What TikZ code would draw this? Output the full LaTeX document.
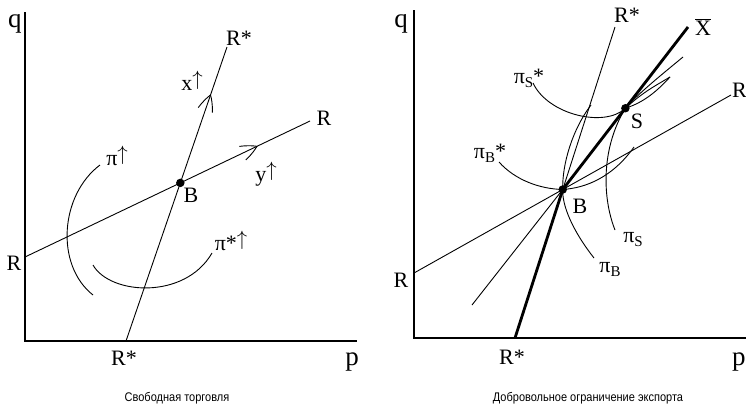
\documentclass[tikz,border=0pt]{standalone}
\usepackage{fontspec}
\setmainfont{Liberation Serif}
\newfontfamily\capfont{Liberation Sans}
\usetikzlibrary{arrows.meta,decorations.markings,calc}
\newcommand{\lsub}[1]{\raisebox{-4pt}{\fontsize{15}{15}\selectfont #1}}
\newcommand{\uparr}{\raisebox{0.2em}{$\uparrow$}}
\begin{document}
\begin{tikzpicture}[x=1pt,y=-1pt,
  lbl/.style={font=\fontsize{22}{22}\selectfont, inner sep=0pt, anchor=base},
  axlbl/.style={font=\fontsize{27}{27}\selectfont, inner sep=0pt, anchor=base},
  captxt/.style={font=\capfont\fontsize{12.5}{12.5}\selectfont, inner sep=0pt, anchor=base, xscale=0.88},
  axisln/.style={line width=1.2pt},
  ln/.style={line width=0.9pt},
  thickln/.style={line width=2.8pt},
  dot/.style={circle, fill=black, inner sep=0pt, minimum size=8.5pt},
  midarrow/.style={postaction={decorate}, decoration={markings,
     mark=at position #1 with {\draw[line width=0.9pt] (-16pt,7.5pt) .. controls (-8pt,5pt) and (-3pt,2pt) .. (0pt,0pt)
        .. controls (-3pt,-2pt) and (-8pt,-5pt) .. (-16pt,-7.5pt);}}}
]
\useasboundingbox (0,0) rectangle (746,408);

% ================= LEFT PANEL =================
\coordinate (LO) at (25,341);
\coordinate (LQ) at (25,12);
\coordinate (LP) at (357,341);
\coordinate (LS1) at (126,341);
\coordinate (LS2) at (227,47);
\coordinate (LR1) at (25,257);
\coordinate (LR2) at (310,121);
\coordinate (LB) at (intersection of LS1--LS2 and LR1--LR2);
\coordinate (pa1) at (100,165);
\coordinate (pa2) at (93,295);
\coordinate (pb1) at (93,265);
\coordinate (pb2) at (212,253);

\draw[axisln] (LQ) -- (LO) -- (LP);
\draw[ln, midarrow=0.837] (LS1) -- (LS2);
\draw[ln, midarrow=0.814] (LR1) -- (LR2);
\draw[ln] (pa1) .. controls (60,195) and (55,265) .. (pa2);
\draw[ln] (pb1) .. controls (110,295) and (185,300) .. (pb2);
\node[dot] (LBdot) at (LB) {};

\node[axlbl] (lq) at (15,27) {q};
\node[axlbl] (lp) at (352,365) {p};
\node[lbl] (lRs1) at (239,45) {R*};
\node[lbl] (lRs2) at (124,365) {R*};
\node[lbl] (lR1) at (324,125) {R};
\node[lbl] (lR2) at (14,270) {R};
\node[lbl] (lBl) at (191,202) {B};
\node[lbl] (lx) at (192,90) {x\uparr};
\node[lbl] (ly) at (266,181) {y\uparr};
\node[lbl] (lpi) at (117,165) {π\uparr};
\node[lbl] (lpis) at (231,250) {π*\uparr};
\node[captxt] (cap1) at (177,401) {Свободная торговля};

% ================= RIGHT PANEL =================
\coordinate (RO) at (414,338);
\coordinate (RQ) at (414,10);
\coordinate (RP) at (746,338);
\coordinate (RS1) at (515,338);
\coordinate (RS2) at (615,27);
\coordinate (RR1) at (414,273);
\coordinate (RR2) at (731,95);
\coordinate (RB) at (intersection of RS1--RS2 and RR1--RR2);
\coordinate (Xtop) at (688,27);
\coordinate (Xbot) at (472,305);
\coordinate (RS) at ($(RB)!0.5!(Xtop)$);

\draw[axisln] (RQ) -- (RO) -- (RP);
\draw[ln] (RR1) -- (RR2);
\draw[ln] (RB) -- (RS2);
\draw[ln] (Xbot) -- (RB);
\draw[thickln] (RS1) -- (RB) -- (Xtop);

% pi_B*
\draw[ln] (499,162) .. controls (515,180) and (540,189) .. (RB)
          .. controls (585,188) and (612,178) .. (634,147);
% pi_B
\draw[ln] (594,258) .. controls (572,230) and (562,205) .. (RB)
          .. controls (562,165) and (572,130) .. (591,105);
% pi_S*
\draw[ln] (533,83) .. controls (548,115) and (605,128) .. (RS)
          .. controls (643,92) and (655,86) .. (670,77);
\draw[ln] (RS) .. controls (645,102) and (658,90) .. (670,77);
% pi_S
\draw[ln] (615,230) .. controls (603,200) and (600,150) .. (RS)
          .. controls (640,92) and (660,76) .. (683,57);

\node[dot] (RBdot) at (RB) {};
\node[dot] (RSdot) at (RS) {};

\node[axlbl] (rq) at (401,27) {q};
\node[axlbl, anchor=base west] (rp) at (732,365) {p};
\node[lbl] (rRs1) at (627,22) {R*};
\node[lbl] (rRs2) at (512,364) {R*};
\node[lbl, anchor=base west] (rR1) at (732,97) {R};
\node[lbl] (rR2) at (401,287) {R};
\node[lbl] (rX) at (703,35) {$\overline{\hbox{X}}$};
\node[lbl] (rSl) at (637,128) {S};
\node[lbl] (rBl) at (580,213) {B};
\node[lbl] (rpSs) at (529,83) {π\lsub{S}*};
\node[lbl] (rpBs) at (490,158) {π\lsub{B}*};
\node[lbl] (rpS) at (633,242) {π\lsub{S}};
\node[lbl] (rpB) at (610,272) {π\lsub{B}};
\node[captxt] (cap2) at (588,401) {Добровольное ограничение экспорта};
\end{tikzpicture}
\end{document}
